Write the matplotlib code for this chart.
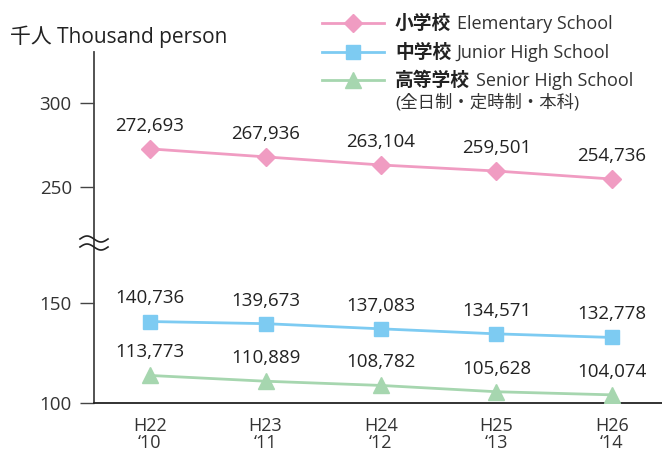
import numpy as np
import matplotlib.pyplot as plt
from matplotlib.lines import Line2D

plt.rcParams['font.family'] = ['Open Sans', 'Noto Sans CJK JP', 'DejaVu Sans']

years = ['H22\n‘10', 'H23\n‘11', 'H24\n‘12', 'H25\n‘13', 'H26\n‘14']
elementary = [272.693, 267.936, 263.104, 259.501, 254.736]
junior = [140.736, 139.673, 137.083, 134.571, 132.778]
senior = [113.773, 110.889, 108.782, 105.628, 104.074]
y_ticks = [100, 150, 250, 300]

names = [('小学校', 'Elementary School'),
         ('中学校', 'Junior High School'),
         ('高等学校', 'Senior High School')]
colors = ['#F09CC2', '#7DCBF2', '#A6D6AF']
markers = ['D', 's', '^']
msizes = [9.5, 10, 11]

W, H = 662, 455

# broken y axis: two linear pieces glued together where the wavy mark is
brk_v = [-1000, 100, 180, 216.67, 1000]
brk_t = [-2200, 0, 160, 160.01, 300 + 700 * 1.68]


def fwd(v):
    return np.interp(v, brk_v, brk_t)


def inv(t):
    return np.interp(t, brk_t, brk_v)


def fig_xy(x, y):
    return x / W, 1 - y / H


fig = plt.figure(figsize=(W / 100, H / 100), dpi=100)
ax = fig.add_axes([94 / W, 52 / H, 568 / W, 351 / H])
ax.set_yscale('function', functions=(fwd, inv))
ax.set_ylim(100, 330.36)
ax.set_xlim(-56 / 115.5, 512 / 115.5)

x = np.arange(len(years))
for vals, c, m, ms in zip([elementary, junior, senior], colors, markers, msizes):
    ax.plot(x, vals, color=c, lw=2, marker=m, markersize=ms, zorder=3)
    for xi, v in zip(x, vals):
        ax.annotate(f'{v * 1000:,.0f}', (xi, v), xytext=(0, 13),
                    textcoords='offset points', ha='center', va='baseline',
                    fontsize=13.5, color='#222222')

for s in ['top', 'right']:
    ax.spines[s].set_visible(False)
ax.spines['left'].set_color('#444444')
ax.spines['left'].set_linewidth(1.3)
ax.spines['bottom'].set_color('#222222')
ax.spines['bottom'].set_linewidth(1.3)

ax.set_yticks(y_ticks)
ax.set_yticklabels([str(t) for t in y_ticks])
ax.yaxis.set_minor_locator(plt.NullLocator())
ax.tick_params(axis='y', length=10, width=1, color='#444444', pad=6,
               labelsize=13.5, labelcolor='#333333')
ax.set_xticks(x)
ax.set_xticklabels(years, linespacing=0.95)
ax.tick_params(axis='x', length=0, pad=10, labelsize=13, labelcolor='#333333')

# wavy break mark on the y axis
wx = np.linspace(80, 108, 40)
for yc in [239, 247]:
    wy = yc - 3 * np.sin((wx - 80) / 28 * 2 * np.pi)
    fig.add_artist(Line2D(wx / W, 1 - wy / H, color='#222222', lw=1.2))

fig.text(*fig_xy(10, 37), '千人 Thousand person', fontsize=15, va='center',
         color='#222222')

# legend
for (jp, en), c, m, ms, ry in zip(names, colors, markers, msizes, [23, 52, 80]):
    lx = np.array([322, 353, 384]) / W
    fig.add_artist(Line2D(lx, [1 - ry / H] * 3, color=c, lw=2, marker=m,
                          markersize=ms, markevery=[1]))
    base = 1 - (ry + 6) / H
    tb = fig.text(395 / W, base, jp, fontsize=13.5, fontweight='bold',
                  va='baseline', color='#222222')
    ax.annotate(en, xy=(1, base), xycoords=(tb, 'figure fraction'),
                xytext=(4, 0), textcoords='offset points', va='baseline',
                ha='left', fontsize=13, color='#333333', annotation_clip=False)
fig.text(*fig_xy(395, 103), '(全日制・定時制・本科)', fontsize=12.5, va='center',
         color='#333333')

fig.savefig('out.png', dpi=100)
